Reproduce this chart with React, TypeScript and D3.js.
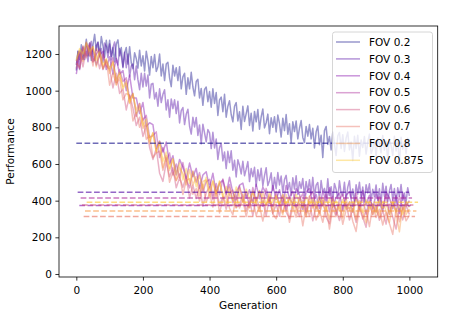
import React, { useEffect, useRef } from 'react';
import * as d3 from 'd3';

// generation axis: the two slow runs were logged every 5 steps, the rest every 10
const gens5 = d3.range(0, 1001, 5);
const gens10 = d3.range(0, 1001, 10);

const fovLabels = ['FOV 0.2', 'FOV 0.3', 'FOV 0.4', 'FOV 0.5', 'FOV 0.6', 'FOV 0.7', 'FOV 0.8', 'FOV 0.875'];

const fov02 = [
  1110, 1215, 1170, 1250, 1170, 1210, 1280, 1190, 1260, 1165, 1250, 1307, 1220, 1265, 1190, 1295, 1245, 1182, 1275, 1208,
  1275, 1187, 1235, 1157, 1255, 1277, 1190, 1235, 1130, 1205, 1235, 1145, 1240, 1152, 1120, 1207, 1175, 1123, 1221, 1135,
  1190, 1107, 1215, 1162, 1085, 1187, 1125, 1197, 1105, 1130, 1200, 1080, 1145, 1055, 1145, 1155, 1070, 1022, 1139, 1080,
  1125, 1055, 1130, 1010, 1075, 1095, 980, 1070, 1010, 1100, 1020, 972, 1050, 1062, 960, 1012, 920, 1007, 1020, 940,
  995, 910, 1010, 930, 990, 865, 950, 965, 885, 980, 855, 915, 945, 870, 830, 915, 935, 835, 885, 788,
  915, 832, 875, 917, 810, 877, 780, 887, 830, 897, 790, 857, 900, 797, 825, 872, 765, 852, 800, 858,
  775, 867, 820, 747, 850, 782, 870, 762, 820, 717, 830, 777, 835, 737, 795, 837, 745, 717, 805, 752,
  815, 737, 795, 687, 775, 807, 705, 757, 635, 782, 805, 707, 750, 677, 775, 708, 646, 754, 772, 685,
  760, 668, 741, 774, 677, 720, 618, 751, 684, 757, 642, 731, 690, 750, 654, 719, 763, 658, 682, 732,
  641, 741, 706, 661, 756, 676, 726, 621, 736, 701, 646, 751, 671, 731, 596, 746, 681, 721, 656, 740, 695];
const fov03 = [
  1140, 1215, 1120, 1205, 1240, 1170, 1215, 1158, 1241, 1269, 1192, 1164, 1246, 1263, 1185, 1230, 1155, 1260, 1240, 1180,
  1255, 1168, 1235, 1265, 1175, 1140, 1230, 1190, 1125, 1210, 1125, 1200, 1075, 1135, 1145, 1060, 1135, 1060, 1005, 1095,
  1020, 1095, 1025, 1085, 960, 1035, 1040, 955, 990, 915, 1010, 935, 980, 1005, 895, 950, 855, 955, 902, 950,
  875, 942, 824, 891, 908, 815, 872, 899, 806, 763, 855, 802, 854, 756, 813, 710, 817, 769, 721, 788,
  770, 684, 773, 687, 736, 625, 689, 713, 617, 666, 575, 669, 608, 672, 566, 620, 529, 623, 592, 546,
  615, 536, 572, 613, 504, 575, 531, 582, 478, 569, 510, 577, 480, 537, 580, 482, 510, 552, 455, 527,
  465, 553, 486, 534, 442, 515, 538, 461, 499, 427, 525, 463, 536, 434, 503, 467, 521, 425, 505, 450,
  514, 438, 527, 421, 485, 499, 407, 510, 444, 467, 416, 519, 428, 476, 400, 494, 462, 411, 508, 443,
  426, 500, 405, 474, 509, 414, 464, 393, 487, 436, 501, 415, 474, 393, 487, 442, 492, 402, 462, 422,
  486, 401, 465, 385, 495, 424, 479, 394, 453, 488, 402, 466, 385, 470, 424, 488, 402, 442, 391, 471, 426];
const fov04 = [
  1090, 1210, 1170, 1260, 1190, 1230, 1140, 1195, 1215, 1115,
  1185, 1090, 1175, 1090, 1110, 1000, 1085, 960, 960, 875,
  935, 805, 825, 815, 685, 725, 665, 720, 600, 645,
  540, 625, 583, 521, 605, 530, 576, 468, 540, 558,
  471, 550, 439, 493, 513, 433, 528, 443, 404, 485,
  496, 413, 460, 382, 489, 411, 474, 437, 385, 483,
  406, 460, 374, 483, 412, 381, 465, 434, 353, 447,
  466, 385, 434, 358, 452, 396, 470, 364, 418, 442,
  346, 430, 449, 368, 417, 351, 455, 380, 429, 354,
  438, 388, 342, 447, 416, 356, 430, 330, 440, 370, 400];
const fov05 = [
  1170, 1115, 1235, 1190, 1260, 1160, 1200, 1225, 1115, 1165,
  1120, 1180, 1045, 1115, 1050, 1070, 955, 985, 860, 930,
  840, 865, 745, 755, 775, 635, 690, 615, 660, 540,
  600, 525, 608, 516, 470, 560, 501, 553, 450, 503,
  516, 425, 494, 433, 518, 438, 488, 388, 449, 480,
  396, 448, 365, 472, 399, 451, 369, 467, 400, 368,
  451, 380, 434, 348, 417, 451, 365, 404, 438, 337,
  421, 450, 354, 408, 372, 436, 340, 424, 323, 407,
  436, 355, 394, 338, 442, 366, 415, 325, 404, 374,
  338, 423, 357, 432, 326, 406, 340, 425, 350, 390, 365];
const fov06 = [
  1120, 1215, 1130, 1230, 1250, 1155, 1200, 1120, 1200, 1135,
  1115, 1015, 1095, 985, 1010, 895, 975, 905, 810, 855,
  750, 810, 690, 625, 685, 550, 505, 610, 530, 580,
  470, 525, 473, 531, 415, 485, 411, 483, 370, 443,
  476, 405, 474, 373, 423, 353, 438, 458, 364, 375,
  436, 343, 405, 317, 419, 361, 399, 317, 420, 328,
  381, 315, 419, 338, 302, 391, 365, 314, 403, 322,
  396, 290, 374, 333, 402, 311, 275, 384, 348, 292,
  371, 390, 294, 358, 282, 376, 310, 255, 379, 324,
  368, 293, 347, 272, 381, 311, 245, 360, 295, 375, 325];
const fov07 = [
  1150, 1125, 1245, 1180, 1235, 1135, 1230, 1190, 1120, 1170,
  1030, 1095, 1035, 1070, 950, 985, 975, 835, 880, 800,
  850, 735, 755, 635, 660, 670, 565, 635, 500, 555,
  510, 545, 433, 511, 520, 435, 466, 398, 490, 393,
  441, 365, 454, 333, 408, 433, 358, 323, 429, 360,
  406, 313, 390, 407, 319, 371, 289, 382, 405, 328,
  301, 385, 334, 393, 282, 366, 310, 384, 263, 372,
  316, 390, 294, 343, 282, 376, 245, 359, 313, 377,
  271, 350, 364, 288, 232, 366, 300, 350, 259, 374,
  308, 353, 267, 337, 276, 216, 355, 285, 360, 290, 320];
const fov08 = [
  1160, 1220, 1160, 1265, 1190, 1240, 1130, 1205, 1120, 1160,
  1095, 1160, 1030, 1090, 1020, 1055, 930, 980, 895, 930,
  795, 820, 710, 770, 670, 720, 580, 645, 565, 625,
  510, 580, 548, 486, 570, 485, 531, 428, 505, 513,
  416, 505, 424, 508, 428, 383, 473, 403, 359, 470,
  421, 378, 360, 452, 389, 341, 449, 377, 430, 338,
  431, 365, 324, 433, 377, 416, 335, 424, 368, 312,
  426, 360, 399, 318, 417, 361, 300, 409, 343, 387,
  306, 410, 349, 393, 297, 401, 340, 280, 394, 324,
  388, 308, 397, 342, 281, 391, 330, 230, 380, 325, 355];
const fov0875 = [
  1170, 1230, 1200, 1260, 1215, 1240, 1165, 1215, 1140, 1175,
  1115, 1155, 1055, 1100, 1010, 1040, 935, 985, 875, 910,
  810, 845, 725, 770, 665, 720, 615, 665, 575, 630,
  545, 605, 513, 576, 495, 560, 476, 538, 465, 528,
  446, 510, 439, 503, 418, 478, 433, 403, 474, 425,
  396, 463, 410, 447, 384, 456, 404, 377, 445, 398,
  426, 375, 434, 383, 417, 356, 435, 384, 363, 422,
  376, 410, 354, 423, 377, 346, 415, 364, 398, 347,
  406, 355, 389, 338, 407, 366, 335, 405, 354, 384,
  333, 403, 357, 382, 326, 391, 340, 375, 325, 395, 365];

const allSeries = [fov02, fov03, fov04, fov05, fov06, fov07, fov08, fov0875];

// dashed reference levels and where each one starts
const refLevels = [713, 446, 373, 414, 376, 313, 344, 391];
const refStart = [0, 4, 9, 13, 17, 22, 26, 31];

const xTicks = [0, 200, 400, 600, 800, 1000];
const yTicks = [0, 200, 400, 600, 800, 1000, 1200];

export default function App() {
  const ref = useRef<SVGSVGElement>(null);

  useEffect(() => {
    const svg = d3.select(ref.current);
    svg.selectAll('*').remove();

    const left = 59, right = 437.7, top = 26, bottom = 277;
    const x = d3.scaleLinear().domain([-52, 1085]).range([left, right]);
    const y = d3.scaleLinear().domain([-16.4, 1352.7]).range([bottom, top]);
    const color = (i: number) => d3.interpolatePlasma(i / 8);
    const font = 'DejaVu Sans, sans-serif';

    svg.append('defs').append('clipPath').attr('id', 'plot-clip')
      .append('rect').attr('x', left).attr('y', top)
      .attr('width', right - left).attr('height', bottom - top);

    const plot = svg.append('g').attr('clip-path', 'url(#plot-clip)');

    allSeries.forEach((s, i) => {
      const gens = s.length === gens5.length ? gens5 : gens10;
      const line = d3.line<number>()
        .x((d, k) => x(gens[k]))
        .y((d) => y(d));
      plot.append('path')
        .attr('d', line(s))
        .attr('fill', 'none')
        .attr('stroke', color(i))
        .attr('stroke-opacity', 0.42)
        .attr('stroke-width', 1.5)
        .attr('stroke-linejoin', 'round');
    });

    refLevels.forEach((v, i) => {
      plot.append('line')
        .attr('x1', x(refStart[i]))
        .attr('x2', x(995 + refStart[i]))
        .attr('y1', y(v))
        .attr('y2', y(v))
        .attr('stroke', color(i))
        .attr('stroke-opacity', 0.6)
        .attr('stroke-width', 1.5)
        .attr('stroke-dasharray', '5.7,2.5');
    });

    // axes
    const fmt = d3.format('d');
    const xAxis = svg.append('g')
      .attr('transform', `translate(0,${bottom})`)
      .call(d3.axisBottom(x).tickValues(xTicks).tickFormat(fmt as any)
        .tickSize(3.6).tickPadding(6).tickSizeOuter(0));
    const yAxis = svg.append('g')
      .attr('transform', `translate(${left},0)`)
      .call(d3.axisLeft(y).tickValues(yTicks).tickFormat(fmt as any)
        .tickSize(3.6).tickPadding(3.5).tickSizeOuter(0));
    [xAxis, yAxis].forEach((a) => {
      a.select('.domain').remove();
      a.selectAll('line').attr('stroke', '#000').attr('stroke-width', 0.8);
      a.selectAll('text').attr('fill', '#000').style('font-family', font).style('font-size', '10.5px');
    });

    svg.append('rect')
      .attr('x', left).attr('y', top)
      .attr('width', right - left).attr('height', bottom - top)
      .attr('fill', 'none').attr('stroke', '#000').attr('stroke-width', 0.8);

    svg.append('text')
      .attr('x', (left + right) / 2).attr('y', 309)
      .attr('text-anchor', 'middle')
      .style('font-family', font).style('font-size', '10.5px')
      .text('Generation');
    svg.append('text')
      .attr('transform', `translate(14,${(top + bottom) / 2}) rotate(-90)`)
      .attr('text-anchor', 'middle')
      .style('font-family', font).style('font-size', '10.5px')
      .text('Performance');

    // legend
    const lg = svg.append('g');
    lg.append('rect')
      .attr('x', 332.5).attr('y', 32).attr('width', 100).attr('height', 140.5)
      .attr('rx', 2.5)
      .attr('fill', '#fff').attr('fill-opacity', 0.8)
      .attr('stroke', '#ccc').attr('stroke-width', 0.8);
    fovLabels.forEach((label, i) => {
      const cy = 42 + i * 16.9;
      lg.append('line')
        .attr('x1', 336).attr('x2', 360).attr('y1', cy).attr('y2', cy)
        .attr('stroke', color(i)).attr('stroke-opacity', 0.42).attr('stroke-width', 1.5);
      lg.append('text')
        .attr('x', 369).attr('y', cy).attr('dy', '0.36em')
        .style('font-family', font).style('font-size', '10.5px')
        .text(label);
    });
  }, []);

  return (
    <svg ref={ref} width={474} height={313}
      style={{ position: 'absolute', left: 0, top: 0, background: '#fff' }} />
  );
}
